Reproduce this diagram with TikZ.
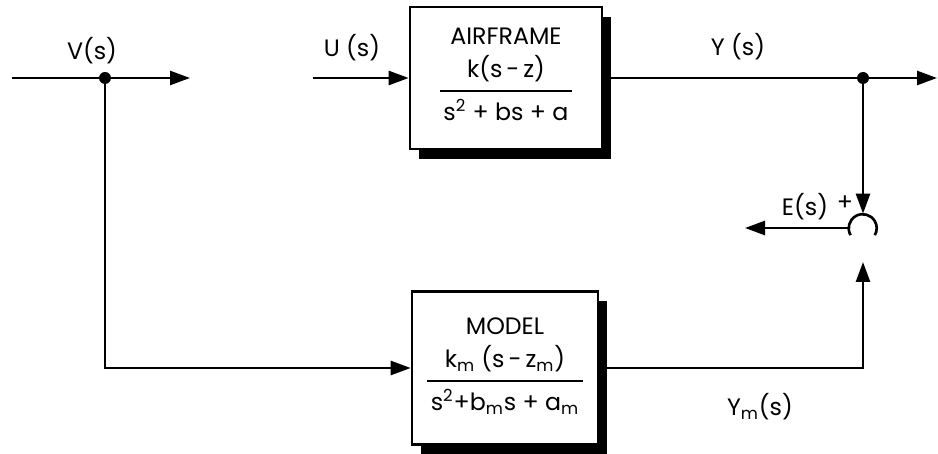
\documentclass[tikz,border=0pt]{standalone}
\usepackage{fontspec}
\setmainfont{Poppins}
\usetikzlibrary{arrows.meta,shadows}
\setlength{\arrayrulewidth}{1pt}

\begin{document}
\begin{tikzpicture}[font=\fontsize{13.5}{15}\selectfont]
    % Define styles
    \tikzstyle{wire} = [line width=1.5pt]
    \tikzstyle{sig} = [wire, -{Triangle[length=0.4cm, width=0.28cm]}]
    \tikzstyle{block} = [rectangle, draw=black, line width=1.5pt, fill=white, align=center,
        drop shadow={shadow xshift=0.18cm, shadow yshift=-0.2cm, fill=black, opacity=1}]
    \tikzstyle{dot} = [circle, fill=black, inner sep=0pt, minimum size=0.24cm]

    \useasboundingbox (0,0) rectangle (18.76,9.06);

    % Blocks
    \node[block, minimum width=3.84cm, minimum height=2.84cm] (air) at (10.12,7.50)
        {AIRFRAME\\[5pt]
         \begin{tabular}{@{\,}c@{\,}} k(s\,-\,z)\\[3pt] \hline \rule{0pt}{16pt}s\textsuperscript{2} + bs + a\end{tabular}};
    \node[block, minimum width=3.72cm, minimum height=3.06cm] (model) at (10.10,1.70)
        {MODEL\\[5pt]
         \begin{tabular}{@{\,}c@{\,}} k\textsubscript{m} (s\,-\,z\textsubscript{m})\\[3pt] \hline \rule{0pt}{16pt}s\textsuperscript{2}+b\textsubscript{m}s + a\textsubscript{m}\end{tabular}};

    % Branch points and summing junction
    \node[dot] (vdot) at (2.10,7.50) {};
    \node[dot] (ydot) at (17.26,7.50) {};
    \node[circle, minimum size=0.56cm, inner sep=0pt] (sum) at (17.26,4.50) {};
    \draw[wire] (sum.210) arc[start angle=210, end angle=-30, radius=0.28cm];

    % Free ends
    \coordinate (vin) at (0.24,7.50);
    \coordinate (vout) at (3.80,7.50);
    \coordinate (uin) at (6.26,7.50);
    \coordinate (yout) at (18.74,7.50);
    \coordinate (eout) at (14.90,4.50);
    \coordinate (ymin) at (17.26,3.82);

    % Connections
    \draw[wire] (vin) -- (vdot);
    \draw[sig] (vdot) -- (vout);
    \draw[sig] (uin) -- (air.west);
    \draw[wire] (air.east) -- (ydot);
    \draw[sig] (ydot) -- (yout);
    \draw[sig] (ydot) -- (sum.north);
    \draw[sig] (sum.west) -- (eout);
    \draw[sig] (vdot) |- (model.west);
    \draw[sig] (model.east) -| (ymin);

    % Labels
    \node (vlab) at (1.84,8.04) {V(s)};
    \node (ulab) at (7.04,8.10) {U (s)};
    \node (ylab) at (14.76,8.12) {Y (s)};
    \node (elab) at (16.10,4.92) {E(s)};
    \node (plus) at (16.90,5.00) {+};
    \node (ymlab) at (15.20,0.92) {Y\textsubscript{m}(s)};
\end{tikzpicture}
\end{document}
